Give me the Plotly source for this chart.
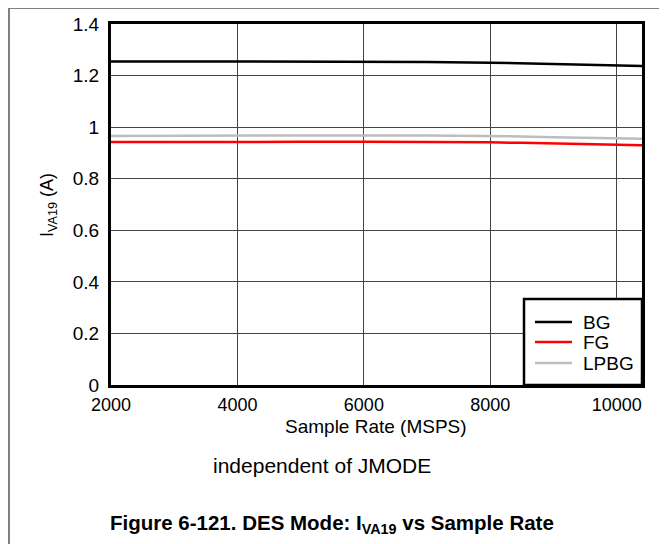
import plotly.graph_objects as go

sample_rate = [2000, 3000, 4000, 5000, 6000, 7000, 8000, 8500, 9000, 9500, 10000, 10400]
bg = [1.255, 1.255, 1.254, 1.254, 1.253, 1.253, 1.250, 1.247, 1.243, 1.240, 1.238, 1.237]
fg = [0.942, 0.943, 0.943, 0.943, 0.943, 0.943, 0.941, 0.939, 0.936, 0.933, 0.931, 0.930]
lpbg = [0.966, 0.967, 0.967, 0.967, 0.968, 0.968, 0.966, 0.964, 0.961, 0.958, 0.956, 0.955]

series_names = ["BG", "FG", "LPBG"]
series_colors = ["black", "#ff0000", "#bdbdbd"]

x_ticks = [2000, 4000, 6000, 8000, 10000]
x_tick_labels = ["2000", "4000", "6000", "8000", "10000"]
y_ticks = [0, 0.2, 0.4, 0.6, 0.8, 1, 1.2, 1.4]
y_tick_labels = ["0", "0.2", "0.4", "0.6", "0.8", "1", "1.2", "1.4"]

FONT = "Liberation Sans, Arial, sans-serif"

# page body has an 8px margin, so the figure is drawn 8px smaller and offset
OFF = 8
W, H = 667 - OFF, 544 - OFF
L, T = 111 - OFF, 24 - OFF
R = W - (642 - OFF)
B = H - (385 - OFF)
pw = W - L - R
ph = H - T - B

def px_x(x):  # reference-picture pixel -> paper
    return (x - OFF - L) / pw

def px_y(y):
    return (H - B - (y - OFF)) / ph

fig = go.Figure()
for name, ys, col in zip(series_names, [bg, fg, lpbg], series_colors):
    fig.add_trace(go.Scatter(x=sample_rate, y=ys, mode="lines", name=name,
                             line=dict(color=col, width=2.5), showlegend=False))

shapes = [
    dict(type="line", xref="paper", yref="paper",
         x0=px_x(9), x1=px_x(9), y0=px_y(560), y1=px_y(8),
         line=dict(color="#808080", width=2)),
    dict(type="line", xref="paper", yref="paper",
         x0=px_x(9), x1=px_x(700), y0=px_y(8), y1=px_y(8),
         line=dict(color="#808080", width=2)),
    # legend box
    dict(type="rect", xref="paper", yref="paper",
         x0=px_x(524), x1=px_x(642), y0=px_y(385), y1=px_y(299),
         line=dict(color="black", width=2.5), fillcolor="white", layer="above"),
]
annotations = []
legend_rows = [322, 342, 363]
for name, col, yr in zip(series_names, series_colors, legend_rows):
    shapes.append(dict(type="line", xref="paper", yref="paper",
                       x0=px_x(535), x1=px_x(572), y0=px_y(yr), y1=px_y(yr),
                       line=dict(color=col, width=2.5), layer="above"))
    annotations.append(dict(text=name, xref="paper", yref="paper",
                            x=px_x(581), y=px_y(yr), showarrow=False,
                            font=dict(size=19), xanchor="left", yanchor="middle"))

annotations += [
    dict(text="I<sub>VA19</sub> (A)", xref="paper", yref="paper",
         x=px_x(48), y=px_y(205), showarrow=False, font=dict(size=18),
         textangle=-90, xanchor="center", yanchor="middle"),
    dict(text="Sample Rate (MSPS)", xref="paper", yref="paper",
         x=px_x(376), y=px_y(426), showarrow=False, font=dict(size=19),
         xanchor="center", yanchor="middle"),
    dict(text="independent of JMODE", xref="paper", yref="paper",
         x=px_x(322), y=px_y(465), showarrow=False, font=dict(size=21),
         xanchor="center", yanchor="middle"),
    dict(text="<b>Figure 6-121. DES Mode: I<sub>VA19</sub> vs Sample Rate</b>",
         xref="paper", yref="paper",
         x=px_x(332), y=px_y(524), showarrow=False, font=dict(size=20.5),
         xanchor="center", yanchor="middle"),
]

fig.update_layout(
    width=W, height=H,
    margin=dict(l=L, r=R, t=T, b=B, pad=0, autoexpand=False),
    paper_bgcolor="white", plot_bgcolor="white",
    font=dict(family=FONT, size=18, color="black"),
    showlegend=False,
    xaxis=dict(range=[2000, 10400], tickvals=x_ticks, ticktext=x_tick_labels, ticks="",
               showgrid=True, gridcolor="#444444", gridwidth=1,
               showline=True, linecolor="black", linewidth=3, mirror=True,
               zeroline=False, tickfont=dict(size=18), ticklabelstandoff=1,
               automargin=False),
    yaxis=dict(range=[0, 1.4], tickvals=y_ticks, ticktext=y_tick_labels, ticks="",
               showgrid=True, gridcolor="#444444", gridwidth=1,
               showline=True, linecolor="black", linewidth=3, mirror=True,
               zeroline=False, tickfont=dict(size=19), ticklabelstandoff=5,
               automargin=False),
    shapes=shapes,
    annotations=annotations,
)

fig.write_html("out.html")
